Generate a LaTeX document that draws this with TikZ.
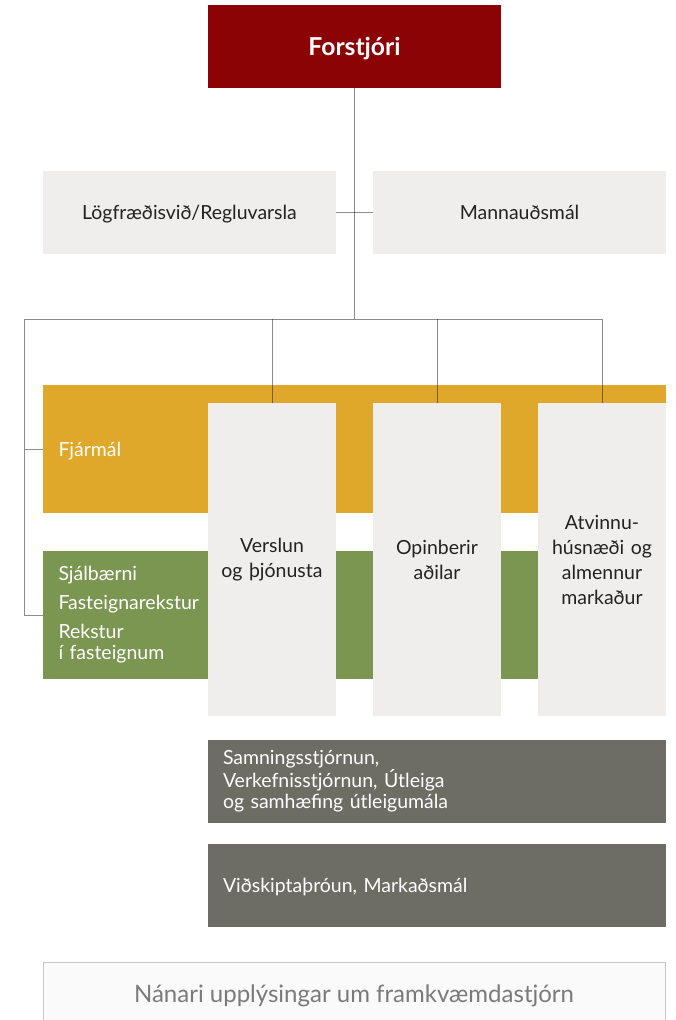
\documentclass[tikz,border=0pt]{standalone}
\usepackage{fontspec}
\setmainfont{Lato}
\usepackage{tikz}
\usetikzlibrary{positioning}
\definecolor{bossRed}{RGB}{139, 3, 5}
\definecolor{finYellow}{RGB}{224, 168, 42}
\definecolor{opsGreen}{RGB}{123, 150, 81}
\definecolor{paleGray}{RGB}{239, 238, 236}
\definecolor{slateGray}{RGB}{109, 109, 102}
\definecolor{noteGray}{RGB}{250, 250, 250}
\definecolor{inkDark}{RGB}{34, 34, 34}

\begin{document}
\begin{tikzpicture}[x=0.75pt, y=-0.75pt,
        unit/.style={rectangle, inner sep=0pt, font=\fontsize{14.6pt}{15.75pt}\selectfont},
        oneline/.style={text depth=0pt},
        staff/.style={unit, oneline, fill=paleGray, text=inkDark, minimum width=219.75pt, minimum height=62.25pt},
        band/.style={unit, text=white, minimum width=467.25pt, minimum height=96pt,
            text width=444pt, inner xsep=11.6pt, align=left},
        column/.style={unit, fill=paleGray, text=inkDark, minimum width=96pt, minimum height=234.75pt,
            text width=96pt, align=center, font=\fontsize{14.6pt}{18.75pt}\selectfont},
        shared/.style={unit, fill=slateGray, text=white, minimum width=343.5pt, minimum height=62.25pt,
            text width=321pt, inner xsep=11.25pt, align=left},
        link/.style={draw=black, opacity=0.45, line width=0.75pt}]
        \useasboundingbox (0,0) rectangle (675,1020);

        % 上段
        \node[unit, oneline, fill=bossRed, text=white, minimum width=219.75pt, minimum height=62.25pt,
            font=\fontsize{18.5pt}{20pt}\selectfont\bfseries] (boss) at (354.5,46.5) {Forstjóri};
        \node[staff] (legal) at (189.5,212.5) {Lögfræðisvið/Regluvarsla};
        \node[staff] (hr) at (519.5,212.5) {Mannauðsmál};

        % 横の帯
        \node[band, oneline, fill=finYellow] (fin) at (354.5,449) {Fjármál};
        \node[band, fill=opsGreen] (ops) at (354.5,615)
            {Sjálbærni\\[6pt]Fasteignarekstur\\[6pt]Rekstur\\í fasteignum};

        % 縦の列
        \node[column] (retail) at (272,559.5) {Verslun\\og þjónusta};
        \node[column] (public) at (437,559.5) {Opinberir\\aðilar};
        \node[column] (market) at (602,559.5) {Atvinnu-\\húsnæði og\\almennur\\markaður};

        % 線
        \coordinate (busL) at (24.5,319);
        \draw[link] (boss.south) -- (boss.south |- busL);
        \draw[link] (legal.east) -- (hr.west);
        \draw[link] (busL) -- (market.north |- busL) -- (market.north);
        \draw[link] (retail.north |- busL) -- (retail.north);
        \draw[link] (public.north |- busL) -- (public.north);
        \draw[link] (busL) |- (ops.west);
        \draw[link] (busL |- fin.west) -- (fin.west);

        % 下段
        \node[shared] (lease) at (437,781)
            {Samningsstjórnun,\\Verkefnisstjórnun, Útleiga\\og samhæfing útleigumála};
        \node[shared, oneline] (bizdev) at (437,885.5) {Viðskiptaþróun, Markaðsmál};
        \node[unit, oneline, fill=noteGray, draw=black!22, line width=0.75pt, text=black!52,
            minimum width=466.5pt, minimum height=48pt,
            font=\fontsize{18pt}{20pt}\selectfont] (more) at (354,994) {Nánari upplýsingar um framkvæmdastjórn};
\end{tikzpicture}
\end{document}
